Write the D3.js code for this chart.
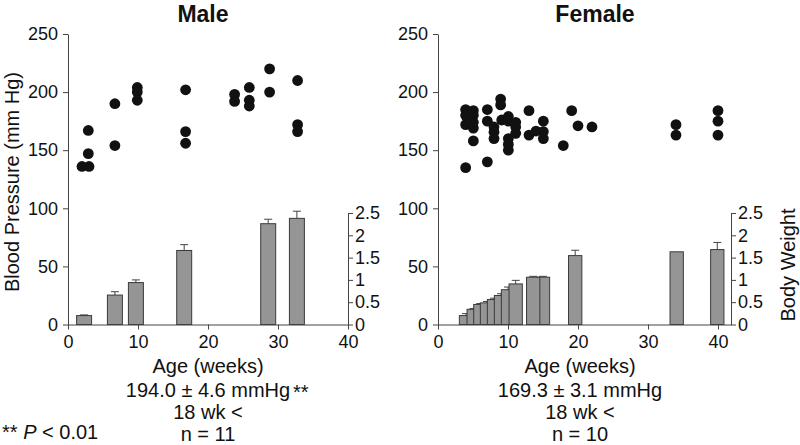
<!DOCTYPE html>
<html><head><meta charset="utf-8">
<script src="https://cdn.jsdelivr.net/npm/d3@7"></script>
<style>
body{margin:0;background:#fff}
text{font-family:"Liberation Sans",Arial,Helvetica,sans-serif;fill:#111}
</style>
</head><body>
<svg id="c" width="800" height="445"></svg>
<script>
// ---- data ----
const xTicks = [0, 10, 20, 30, 40];
const bpTicks = [0, 50, 100, 150, 200, 250];
const bwTicks = [0, 0.5, 1, 1.5, 2, 2.5];

const malePointAge = [2, 3, 2.9, 2.9, 6.7, 6.7, 9.9, 9.9, 9.9, 16.8, 16.8, 16.8, 23.8, 23.8, 25.9, 25.9, 25.9, 28.8, 28.8, 32.8, 32.8, 32.8];
const malePointBP  = [136, 136, 147, 167, 190, 154, 204, 200, 193, 202, 166, 156, 198, 192, 204, 193, 188, 220, 200, 210, 172, 166];
const maleBarAge = [2.3, 6.7, 9.7, 16.6, 28.6, 32.7];
const maleBarBW  = [0.20, 0.66, 0.94, 1.66, 2.26, 2.38];
const maleBarErr = [0.015, 0.075, 0.06, 0.13, 0.10, 0.16];

const femalePointAge = [3.95, 3.95, 3.95, 3.95, 5.05, 5.05, 5.05, 5.05, 5.05, 7.05, 7.05, 7.05, 8, 8, 8, 8.95, 8.95, 9.1, 10.05, 10.05, 10.05, 10.05, 10.05, 11.1, 11.1, 11.1, 13, 13, 14, 15.05, 15.05, 15.05, 17.9, 19.1, 20, 22, 34, 34, 40, 40, 40];
const femalePointBP  = [185, 180, 172, 135, 184, 180, 174, 169, 158, 185, 175, 140, 170, 165.5, 160, 194, 189, 176, 179, 175, 160, 155, 150, 174, 170, 164.5, 184, 163, 166.5, 175, 166, 160, 154, 184, 171, 170, 172, 163, 184, 175, 163];
const femaleBarAge = [4.0, 5.1, 6.05, 7.0, 8.0, 9.0, 10.0, 11.1, 15.0, 13.6, 19.6, 34.1, 39.9];
const femaleBarBW  = [0.20, 0.34, 0.45, 0.485, 0.56, 0.65, 0.78, 0.91, 1.06, 1.06, 1.545, 1.63, 1.68];
const femaleBarErr = [0.045, 0.02, 0.02, 0.03, 0.03, 0.04, 0.06, 0.08, 0.02, 0.02, 0.12, 0, 0.16];

// ---- drawing ----
const svg = d3.select("#c");
const yTop = 34, yBase = 324.5, bwTopY = 213;
const bp = d3.scaleLinear().domain([0, 250]).range([yBase, yTop]);
const bw = d3.scaleLinear().domain([0, 2.5]).range([yBase, bwTopY]);
const axisColor = "#444";

function panel(cfg) {
  const x = d3.scaleLinear().domain([0, cfg.xMax]).range([cfg.x0, cfg.x1]);
  const g = svg.append("g");

  // bars
  const bw0 = x(cfg.barWidth) - x(0);
  cfg.barAge.forEach((a, i) => {
    const v = cfg.barBW[i], e = cfg.barErr[i];
    if (e > 0) {
      g.append("line").attr("x1", x(a)).attr("x2", x(a))
        .attr("y1", bw(v)).attr("y2", bw(v + e))
        .attr("stroke", "#444").attr("stroke-width", 1);
      g.append("line").attr("x1", x(a) - 4).attr("x2", x(a) + 4)
        .attr("y1", bw(v + e)).attr("y2", bw(v + e))
        .attr("stroke", "#444").attr("stroke-width", 1);
    }
    g.append("rect").attr("x", x(a) - bw0 / 2).attr("y", bw(v))
      .attr("width", bw0).attr("height", bw(0) - bw(v))
      .attr("fill", "#959595").attr("stroke", "#3a3a3a").attr("stroke-width", 1);
  });

  // points
  g.selectAll("circle.p").data(cfg.pAge).enter().append("circle")
    .attr("cx", (d) => x(d)).attr("cy", (d, i) => bp(cfg.pBP[i]))
    .attr("r", 5.4).attr("fill", "#111");

  // axes
  const ax = g.append("g").attr("transform", `translate(0,${yBase})`)
    .call(d3.axisBottom(x).tickValues(xTicks).tickSize(5).tickSizeOuter(0).tickPadding(6));
  const ay = g.append("g").attr("transform", `translate(${cfg.x0},0)`)
    .call(d3.axisLeft(bp).tickValues(bpTicks).tickSize(5).tickSizeOuter(0).tickPadding(5));
  const ar = g.append("g").attr("transform", `translate(${cfg.x1},0)`)
    .call(d3.axisRight(bw).tickValues(bwTicks).tickSize(5).tickSizeOuter(0).tickPadding(2)
      .tickFormat((d) => String(d)));
  [ax, ay, ar].forEach((a) => {
    a.selectAll("path,line").attr("stroke", axisColor);
    a.selectAll("text").attr("font-size", 18).attr("fill", "#111")
      .style("font-family", '"Liberation Sans",Arial,sans-serif');
  });

  // title
  g.append("text").attr("x", cfg.titleX).attr("y", 21.5).attr("text-anchor", "middle")
    .attr("font-size", 23).attr("font-weight", "bold").text(cfg.title);

  // bottom texts
  const cx = cfg.textX;
  g.append("text").attr("x", cx).attr("y", 373).attr("text-anchor", "middle")
    .attr("font-size", 20).text("Age (weeks)");
  g.append("text").attr("x", cx).attr("y", 396.5).attr("text-anchor", "middle")
    .attr("font-size", 20).text(cfg.mean);
  g.append("text").attr("x", cx).attr("y", 419).attr("text-anchor", "middle")
    .attr("font-size", 20).text("18 wk <");
  g.append("text").attr("x", cx).attr("y", 440.5).attr("text-anchor", "middle")
    .attr("font-size", 20).text(cfg.n);
  return g;
}

const gm = panel({
  x0: 68, x1: 348, xMax: 40, barWidth: 2.14,
  barAge: maleBarAge, barBW: maleBarBW, barErr: maleBarErr,
  pAge: malePointAge, pBP: malePointBP,
  title: "Male", titleX: 203, textX: 208,
  mean: "194.0 \u00b1 4.6 mmHg", n: "n = 11"
});
gm.append("text").attr("x", 293).attr("y", 398.5).attr("font-size", 20).text("**");

const gf = panel({
  x0: 438, x1: 731, xMax: 41.86, barWidth: 1.9,
  barAge: femaleBarAge, barBW: femaleBarBW, barErr: femaleBarErr,
  pAge: femalePointAge, pBP: femalePointBP,
  title: "Female", titleX: 595, textX: 580,
  mean: "169.3 \u00b1 3.1 mmHg", n: "n = 10"
});

// axis titles
svg.append("text").attr("transform", "translate(18.5,182) rotate(-90)")
  .attr("text-anchor", "middle").attr("font-size", 20).text("Blood Pressure (mm Hg)");
svg.append("text").attr("transform", "translate(795,265) rotate(-90)")
  .attr("text-anchor", "middle").attr("font-size", 20).text("Body Weight");

// significance note
const note = svg.append("text").attr("x", 2).attr("y", 439).attr("font-size", 20);
note.append("tspan").text("** ");
note.append("tspan").attr("font-style", "italic").text("P");
note.append("tspan").text(" < 0.01");
</script>
</body></html>
